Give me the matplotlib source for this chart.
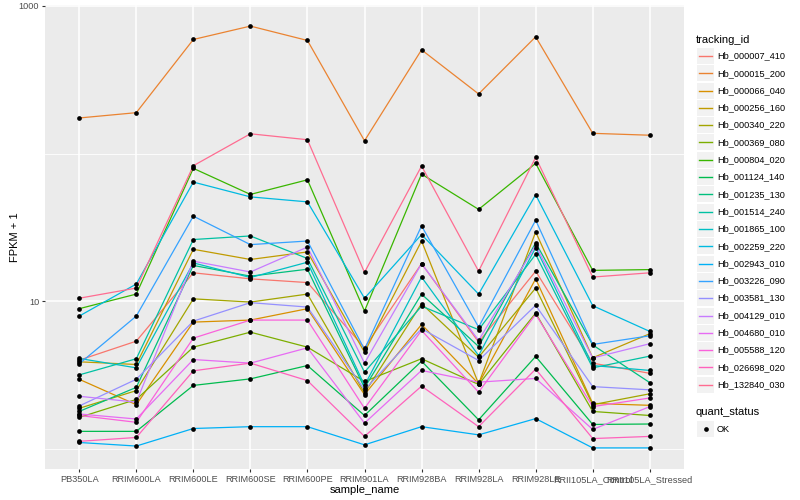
import numpy as np
import matplotlib
matplotlib.use("Agg")
import matplotlib.pyplot as plt
from matplotlib.patches import Rectangle
from matplotlib.lines import Line2D
from matplotlib.ticker import FixedLocator, NullFormatter

plt.rcParams["font.family"] = ["Liberation Sans", "DejaVu Sans"]

samples = ["PB350LA", "RRIM600LA", "RRIM600LE", "RRIM600SE", "RRIM600PE", "RRIM901LA",
           "RRIM928BA", "RRIM928LA", "RRIM928LE", "RRII105LA_Control", "RRII105LA_Stressed"]

tracking_ids = ["Hb_000007_410", "Hb_000015_200", "Hb_000066_040", "Hb_000256_160",
                "Hb_000340_220", "Hb_000369_080", "Hb_000804_020", "Hb_001124_140",
                "Hb_001235_130", "Hb_001514_240", "Hb_001865_100", "Hb_002259_220",
                "Hb_002943_010", "Hb_003226_090", "Hb_003581_130", "Hb_004129_010",
                "Hb_004680_010", "Hb_005588_120", "Hb_026698_020", "Hb_132840_030"]

# ggplot hue palette for 20 levels
colors = ["#F8766D", "#EA8331", "#D89000", "#C09B00", "#A3A500", "#7CAE00", "#39B600",
          "#00BB4E", "#00BF7D", "#00C1A3", "#00BFC4", "#00BAE0", "#00B0F6", "#35A2FF",
          "#9590FF", "#C77CFF", "#E76BF3", "#FA62DB", "#FF62BC", "#FF6C91"]

# FPKM + 1, one list per gene, in sample order
hb_000007_410 = [4.00, 5.38, 15.6, 14.2, 13.4, 4.85, 18.0, 5.30, 16.0, 3.82, 3.26]
hb_000015_200 = [174, 189, 591, 728, 582, 122, 503, 253, 616, 137, 133]
hb_000066_040 = [2.97, 2.00, 7.24, 7.47, 8.92, 2.34, 6.98, 2.77, 14.2, 2.04, 1.98]
hb_000256_160 = [3.90, 3.74, 22.5, 19.2, 21.6, 4.53, 25.6, 2.77, 29.5, 4.15, 6.04]
hb_000340_220 = [1.89, 2.49, 10.4, 9.89, 11.2, 2.40, 9.64, 4.19, 12.3, 2.00, 2.37]
hb_000369_080 = [1.64, 2.17, 4.90, 6.19, 4.90, 2.87, 4.09, 2.74, 8.33, 1.80, 1.69]
hb_000804_020 = [8.92, 11.2, 79.4, 52.9, 66.4, 8.60, 72.6, 41.9, 85.8, 16.2, 16.4]
hb_001124_140 = [1.32, 1.32, 2.70, 2.99, 3.68, 1.69, 3.94, 1.58, 4.24, 1.47, 1.48]
hb_001235_130 = [1.80, 2.62, 17.5, 14.8, 16.5, 2.60, 11.2, 4.95, 24.9, 5.07, 2.82]
hb_001514_240 = [3.18, 4.09, 26.2, 27.7, 19.5, 3.32, 9.29, 6.43, 20.8, 3.55, 4.26]
hb_001865_100 = [4.11, 3.55, 18.2, 14.5, 18.4, 2.70, 14.6, 4.30, 23.1, 3.68, 3.41]
hb_002259_220 = [7.95, 13.1, 64.1, 50.9, 47.1, 10.5, 28.3, 11.2, 52.6, 9.35, 6.26]
hb_002943_010 = [1.11, 1.05, 1.38, 1.42, 1.42, 1.07, 1.42, 1.25, 1.61, 1.02, 1.02]
hb_003226_090 = [3.78, 7.95, 37.7, 24.2, 25.6, 4.73, 32.4, 6.70, 35.4, 5.11, 5.85]
hb_003581_130 = [1.96, 2.97, 7.35, 9.80, 9.15, 2.52, 6.53, 3.98, 9.40, 2.65, 2.52]
hb_004129_010 = [2.28, 2.08, 18.7, 15.8, 23.3, 3.82, 18.0, 5.44, 24.0, 4.14, 5.17]
hb_004680_010 = [1.73, 1.60, 4.04, 3.82, 4.85, 1.50, 3.41, 2.84, 3.01, 1.36, 1.94]
hb_005588_120 = [1.69, 1.52, 5.64, 7.47, 7.47, 1.89, 6.36, 2.43, 8.17, 1.94, 2.22]
hb_026698_020 = [1.13, 1.20, 3.39, 3.82, 2.91, 1.22, 2.67, 1.42, 3.48, 1.18, 1.22]
hb_132840_030 = [10.5, 12.3, 82.7, 136, 124, 15.7, 82.3, 16.0, 94.2, 14.6, 15.6]

series = [hb_000007_410, hb_000015_200, hb_000066_040, hb_000256_160, hb_000340_220,
          hb_000369_080, hb_000804_020, hb_001124_140, hb_001235_130, hb_001514_240,
          hb_001865_100, hb_002259_220, hb_002943_010, hb_003226_090, hb_003581_130,
          hb_004129_010, hb_004680_010, hb_005588_120, hb_026698_020, hb_132840_030]

W, H = 800, 500
fig = plt.figure(figsize=(W / 100, H / 100), dpi=100)


def fx(px):
    return px / W


def fy(py):
    return 1 - py / H


ax = fig.add_axes([fx(45), fy(469), fx(684) - fx(45), fy(5) - fy(469)])
ax.set_facecolor("#EBEBEB")
for s in ax.spines.values():
    s.set_visible(False)

x = np.arange(len(samples))
for vals, col in zip(series, colors):
    ax.plot(x, vals, color=col, lw=0.9, zorder=2)
for vals in series:
    ax.plot(x, vals, "o", color="black", ms=3.4, mew=0, zorder=3)

ax.set_yscale("log")
allv = np.log10(np.concatenate([np.array(v, float) for v in series]))
lo, hi = allv.min(), allv.max()
pad = 0.05 * (hi - lo)
ax.set_ylim(10 ** (lo - pad), 10 ** (hi + pad))
ax.set_xlim(-0.6, len(samples) - 0.4)

ax.yaxis.set_major_locator(FixedLocator([10, 1000]))
ax.yaxis.set_minor_locator(FixedLocator([1, 100]))
ax.yaxis.set_major_formatter(plt.FuncFormatter(lambda v, p: f"{v:g}"))
ax.yaxis.set_minor_formatter(NullFormatter())
ax.set_xticks(x)
ax.set_xticklabels(samples)

ax.grid(which="major", color="white", lw=1.1)
ax.grid(which="minor", axis="y", color="white", lw=0.6)
ax.set_axisbelow(True)
ax.tick_params(which="major", length=2.2, width=0.8, color="#333333",
               labelsize=6.6, labelcolor="#4D4D4D", pad=2)
ax.tick_params(which="minor", length=0)

ax.set_xlabel("sample_name", fontsize=8, labelpad=1)
ax.set_ylabel("FPKM + 1", fontsize=8, labelpad=-1)

# legend drawn the ggplot way: grey key boxes
fig.text(fx(696), fy(40), "tracking_id", fontsize=8, va="center", ha="left")
step = 17.3
for i, (name, col) in enumerate(zip(tracking_ids, colors)):
    cy = 56 + i * step
    fig.add_artist(Rectangle((fx(697), fy(cy + 8)), fx(17), 16 / H,
                             transform=fig.transFigure, facecolor="#F2F2F2", edgecolor="none"))
    fig.add_artist(Line2D([fx(699), fx(712)], [fy(cy), fy(cy)],
                          transform=fig.transFigure, color=col, lw=1.0))
    fig.text(fx(717), fy(cy), name, fontsize=6.6, va="center", ha="left")

fig.text(fx(696), fy(412), "quant_status", fontsize=8, va="center", ha="left")
fig.add_artist(Rectangle((fx(697), fy(437)), fx(17), 16 / H,
                         transform=fig.transFigure, facecolor="#F2F2F2", edgecolor="none"))
fig.add_artist(Line2D([fx(705.5)], [fy(429)], transform=fig.transFigure,
                      marker="o", color="black", ms=3.4, mew=0))
fig.text(fx(717), fy(429), "OK", fontsize=6.6, va="center", ha="left")

fig.savefig("out.png", dpi=100)
